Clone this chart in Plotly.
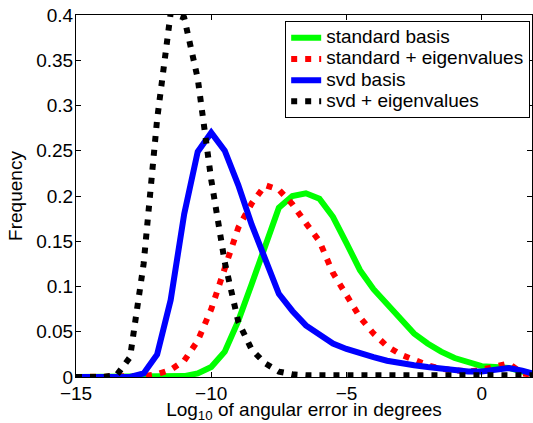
import plotly.graph_objects as go

bins = [-15, -14.5, -14, -13.5, -13, -12.5, -12, -11.5, -11, -10.5, -10, -9.5,
        -9, -8.5, -8, -7.5, -7, -6.5, -6, -5.5, -5, -4.5, -4, -3.5, -3, -2.5,
        -2, -1.5, -1, -0.5, 0, 0.5, 1, 1.5, 2]

standard_basis = [0, 0, 0, 0, 0, 0, 0, 0, 0.001, 0.004, 0.011, 0.028,
                  0.062, 0.103, 0.147, 0.187, 0.200, 0.203, 0.197, 0.177, 0.148, 0.118,
                  0.097, 0.080, 0.063, 0.048, 0.037, 0.028, 0.021, 0.016, 0.012, 0.011,
                  0.010, 0.006, 0.003]

standard_eig = [0, 0, 0, 0, 0, 0.001, 0.003, 0.008, 0.018, 0.040, 0.075, 0.122,
                0.165, 0.192, 0.212, 0.207, 0.191, 0.170, 0.150, 0.115, 0.089, 0.066,
                0.048, 0.034, 0.025, 0.019, 0.013, 0.009, 0.007, 0.006, 0.008, 0.012,
                0.015, 0.004, 0.002]

svd_basis = [0, 0, 0, 0, 0, 0.004, 0.025, 0.085, 0.180, 0.249, 0.270, 0.250,
             0.212, 0.168, 0.128, 0.092, 0.073, 0.057, 0.047, 0.037, 0.031, 0.026,
             0.022, 0.018, 0.015, 0.013, 0.011, 0.009, 0.007, 0.006, 0.006, 0.008,
             0.010, 0.007, 0.003]

svd_eig = [0, 0, 0, 0.002, 0.022, 0.125, 0.285, 0.402, 0.397, 0.330, 0.218, 0.127,
           0.061, 0.030, 0.015, 0.006, 0.003, 0.002, 0.002, 0.002, 0.002, 0.002,
           0.002, 0.002, 0.002, 0.002, 0.002, 0.002, 0.002, 0.002, 0.002, 0.002,
           0.002, 0.002, 0.002]

series_names = ["standard basis", "standard + eigenvalues", "svd basis", "svd + eigenvalues"]

x_ticks = [-15, -10, -5, 0]
y_ticks = [0, 0.05, 0.1, 0.15, 0.2, 0.25, 0.3, 0.35, 0.4]

FONT = "Liberation Sans, Arial, Helvetica, sans-serif"
dots = "6px,8px"


def big(t):
    return '<span style="font-size:19px">' + t + '</span>'


fig = go.Figure()
fig.add_trace(go.Scatter(x=bins, y=standard_basis, mode="lines", name=big(series_names[0]),
                         line=dict(color="#00ff00", width=6)))
fig.add_trace(go.Scatter(x=bins, y=standard_eig, mode="lines", name=big(series_names[1]),
                         line=dict(color="#ff0000", width=6, dash=dots)))
fig.add_trace(go.Scatter(x=bins, y=svd_basis, mode="lines", name=big(series_names[2]),
                         line=dict(color="#0000ff", width=6)))
fig.add_trace(go.Scatter(x=bins, y=svd_eig, mode="lines", name=big(series_names[3]),
                         line=dict(color="#000000", width=6, dash=dots)))

axis_common = dict(showline=True, linecolor="black", linewidth=1, mirror="ticks",
                   ticks="inside", ticklen=5, tickcolor="black", showgrid=False,
                   zeroline=False, tickfont=dict(size=19, color="black", family=FONT))

fig.update_xaxes(range=[-15, 1.86], tickvals=x_ticks, ticklabelstandoff=-1,
                 title=dict(text="Log<sub>10</sub> of angular error in degrees",
                            font=dict(size=19, color="black", family=FONT), standoff=2),
                 **axis_common)
fig.update_yaxes(range=[0, 0.4], tickvals=y_ticks, ticklabelstandoff=-2,
                 title=dict(text="Frequency", font=dict(size=19, color="black", family=FONT),
                            standoff=8),
                 **axis_common)

fig.update_layout(
    width=533, height=423,
    margin=dict(l=76, r=1, t=15, b=46),
    paper_bgcolor="white", plot_bgcolor="white",
    font=dict(family=FONT, size=19, color="black"),
    showlegend=True,
    legend=dict(x=0.996, y=0.983, xanchor="right", yanchor="top",
                bgcolor="white", bordercolor="black", borderwidth=1,
                font=dict(size=14, family=FONT, color="black"),
                tracegroupgap=0, itemwidth=30),
)

fig.write_html("out.html")
